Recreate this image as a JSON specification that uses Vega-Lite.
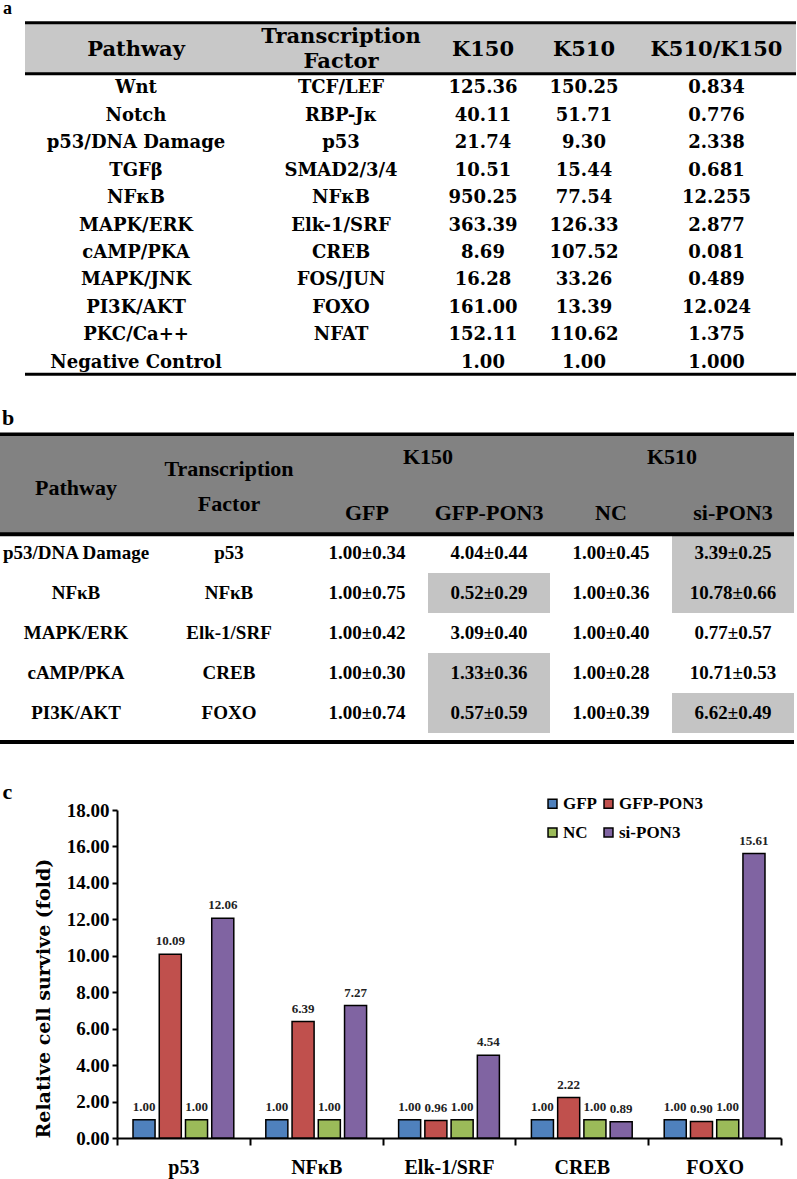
{
  "$schema": "https://vega.github.io/schema/vega-lite/v6.json",
  "autosize": {"type": "none"},
  "padding": {"left": 0, "top": 0, "right": 797, "bottom": 1179},
  "background": "white",
  "config": {"view": {"stroke": null}, "concat": {"spacing": 0}},
  "datasets": {
    "ta": [
      {"r": "h1", "c": "lab", "t": "a"},
      {"r": "hdr", "c": "pw", "t": "Pathway"},
      {"r": "hdr", "c": "tf", "t": "Transcription\nFactor"},
      {"r": "hdr", "c": "k150", "t": "K150"},
      {"r": "hdr", "c": "k510", "t": "K510"},
      {"r": "hdr", "c": "ratio", "t": "K510/K150"},
      {"r": "r1", "c": "pw", "t": "Wnt"}, {"r": "r1", "c": "tf", "t": "TCF/LEF"}, {"r": "r1", "c": "k150", "t": "125.36"}, {"r": "r1", "c": "k510", "t": "150.25"}, {"r": "r1", "c": "ratio", "t": "0.834"},
      {"r": "r2", "c": "pw", "t": "Notch"}, {"r": "r2", "c": "tf", "t": "RBP-Jκ"}, {"r": "r2", "c": "k150", "t": "40.11"}, {"r": "r2", "c": "k510", "t": "51.71"}, {"r": "r2", "c": "ratio", "t": "0.776"},
      {"r": "r3", "c": "pw", "t": "p53/DNA Damage"}, {"r": "r3", "c": "tf", "t": "p53"}, {"r": "r3", "c": "k150", "t": "21.74"}, {"r": "r3", "c": "k510", "t": "9.30"}, {"r": "r3", "c": "ratio", "t": "2.338"},
      {"r": "r4", "c": "pw", "t": "TGFβ"}, {"r": "r4", "c": "tf", "t": "SMAD2/3/4"}, {"r": "r4", "c": "k150", "t": "10.51"}, {"r": "r4", "c": "k510", "t": "15.44"}, {"r": "r4", "c": "ratio", "t": "0.681"},
      {"r": "r5", "c": "pw", "t": "NFκB"}, {"r": "r5", "c": "tf", "t": "NFκB"}, {"r": "r5", "c": "k150", "t": "950.25"}, {"r": "r5", "c": "k510", "t": "77.54"}, {"r": "r5", "c": "ratio", "t": "12.255"},
      {"r": "r6", "c": "pw", "t": "MAPK/ERK"}, {"r": "r6", "c": "tf", "t": "Elk-1/SRF"}, {"r": "r6", "c": "k150", "t": "363.39"}, {"r": "r6", "c": "k510", "t": "126.33"}, {"r": "r6", "c": "ratio", "t": "2.877"},
      {"r": "r7", "c": "pw", "t": "cAMP/PKA"}, {"r": "r7", "c": "tf", "t": "CREB"}, {"r": "r7", "c": "k150", "t": "8.69"}, {"r": "r7", "c": "k510", "t": "107.52"}, {"r": "r7", "c": "ratio", "t": "0.081"},
      {"r": "r8", "c": "pw", "t": "MAPK/JNK"}, {"r": "r8", "c": "tf", "t": "FOS/JUN"}, {"r": "r8", "c": "k150", "t": "16.28"}, {"r": "r8", "c": "k510", "t": "33.26"}, {"r": "r8", "c": "ratio", "t": "0.489"},
      {"r": "r9", "c": "pw", "t": "PI3K/AKT"}, {"r": "r9", "c": "tf", "t": "FOXO"}, {"r": "r9", "c": "k150", "t": "161.00"}, {"r": "r9", "c": "k510", "t": "13.39"}, {"r": "r9", "c": "ratio", "t": "12.024"},
      {"r": "r10", "c": "pw", "t": "PKC/Ca++"}, {"r": "r10", "c": "tf", "t": "NFAT"}, {"r": "r10", "c": "k150", "t": "152.11"}, {"r": "r10", "c": "k510", "t": "110.62"}, {"r": "r10", "c": "ratio", "t": "1.375"},
      {"r": "r11", "c": "pw", "t": "Negative Control"}, {"r": "r11", "c": "k150", "t": "1.00"}, {"r": "r11", "c": "k510", "t": "1.00"}, {"r": "r11", "c": "ratio", "t": "1.000"}
    ],
    "tb": [
      {"r": "h0", "c": "lab", "t": "b"},
      {"r": "h1", "c": "pw", "t": "Pathway"},
      {"r": "h1", "c": "tf", "t": "Transcription\nFactor"},
      {"r": "h1", "c": "gp", "t": "K150"},
      {"r": "h1", "c": "sp", "t": "K510"},
      {"r": "h2", "c": "gfp", "t": "GFP"},
      {"r": "h2", "c": "gp", "t": "GFP-PON3"},
      {"r": "h2", "c": "nc", "t": "NC"},
      {"r": "h2", "c": "sp", "t": "si-PON3"},
      {"r": "r1", "c": "pw", "t": "p53/DNA Damage"}, {"r": "r1", "c": "tf", "t": "p53"}, {"r": "r1", "c": "gfp", "t": "1.00±0.34"}, {"r": "r1", "c": "gp", "t": "4.04±0.44", "hl": false}, {"r": "r1", "c": "nc", "t": "1.00±0.45"}, {"r": "r1", "c": "sp", "t": "3.39±0.25", "hl": true},
      {"r": "r2", "c": "pw", "t": "NFκB"}, {"r": "r2", "c": "tf", "t": "NFκB"}, {"r": "r2", "c": "gfp", "t": "1.00±0.75"}, {"r": "r2", "c": "gp", "t": "0.52±0.29", "hl": true}, {"r": "r2", "c": "nc", "t": "1.00±0.36"}, {"r": "r2", "c": "sp", "t": "10.78±0.66", "hl": true},
      {"r": "r3", "c": "pw", "t": "MAPK/ERK"}, {"r": "r3", "c": "tf", "t": "Elk-1/SRF"}, {"r": "r3", "c": "gfp", "t": "1.00±0.42"}, {"r": "r3", "c": "gp", "t": "3.09±0.40", "hl": false}, {"r": "r3", "c": "nc", "t": "1.00±0.40"}, {"r": "r3", "c": "sp", "t": "0.77±0.57", "hl": false},
      {"r": "r4", "c": "pw", "t": "cAMP/PKA"}, {"r": "r4", "c": "tf", "t": "CREB"}, {"r": "r4", "c": "gfp", "t": "1.00±0.30"}, {"r": "r4", "c": "gp", "t": "1.33±0.36", "hl": true}, {"r": "r4", "c": "nc", "t": "1.00±0.28"}, {"r": "r4", "c": "sp", "t": "10.71±0.53", "hl": false},
      {"r": "r5", "c": "pw", "t": "PI3K/AKT"}, {"r": "r5", "c": "tf", "t": "FOXO"}, {"r": "r5", "c": "gfp", "t": "1.00±0.74"}, {"r": "r5", "c": "gp", "t": "0.57±0.59", "hl": true}, {"r": "r5", "c": "nc", "t": "1.00±0.39"}, {"r": "r5", "c": "sp", "t": "6.62±0.49", "hl": true}
    ],
    "bars": [
      {"tf": "p53", "grp": "GFP", "v": 1.00}, {"tf": "p53", "grp": "GFP-PON3", "v": 10.09}, {"tf": "p53", "grp": "NC", "v": 1.00}, {"tf": "p53", "grp": "si-PON3", "v": 12.06},
      {"tf": "NFκB", "grp": "GFP", "v": 1.00}, {"tf": "NFκB", "grp": "GFP-PON3", "v": 6.39}, {"tf": "NFκB", "grp": "NC", "v": 1.00}, {"tf": "NFκB", "grp": "si-PON3", "v": 7.27},
      {"tf": "Elk-1/SRF", "grp": "GFP", "v": 1.00}, {"tf": "Elk-1/SRF", "grp": "GFP-PON3", "v": 0.96}, {"tf": "Elk-1/SRF", "grp": "NC", "v": 1.00}, {"tf": "Elk-1/SRF", "grp": "si-PON3", "v": 4.54},
      {"tf": "CREB", "grp": "GFP", "v": 1.00}, {"tf": "CREB", "grp": "GFP-PON3", "v": 2.22}, {"tf": "CREB", "grp": "NC", "v": 1.00}, {"tf": "CREB", "grp": "si-PON3", "v": 0.89},
      {"tf": "FOXO", "grp": "GFP", "v": 1.00}, {"tf": "FOXO", "grp": "GFP-PON3", "v": 0.90}, {"tf": "FOXO", "grp": "NC", "v": 1.00}, {"tf": "FOXO", "grp": "si-PON3", "v": 15.61}
    ]
  },
  "spacing": 0,
  "vconcat": [
    {
      "bounds": "flush",
      "spacing": 0,
      "hconcat": [
        {"width": 25, "height": 377.75, "data": {"name": "ta"},
         "transform": [{"filter": "datum.c==='lab'"}],
         "mark": {"type": "text", "font": "Liberation Serif", "fontWeight": "bold", "fontSize": 18, "color": "black", "baseline": "alphabetic", "align": "center", "dx": -5, "dy": -5},
         "encoding": {"y": {"field": "r", "type": "nominal", "bandPosition": 0, "axis": null, "scale": {"type": "band", "domain": ["h1","h2","r1","r2","r3","r4","r5","r6","r7","r8","r9","r10","r11"], "paddingInner": 0, "paddingOuter": 0.3682, "align": 0.9506}}, "text": {"field": "t"}}},
        {"width": 222, "height": 377.75, "data": {"name": "ta"},
         "encoding": {"y": {"field": "r", "type": "nominal", "axis": null, "scale": {"type": "band", "domain": ["h1","h2","r1","r2","r3","r4","r5","r6","r7","r8","r9","r10","r11"], "paddingInner": 0, "paddingOuter": 0.3682, "align": 0.9506}}},
         "layer": [
           {"transform": [{"filter": "datum.c==='pw' && datum.r==='r1'"}], "mark": {"type": "rect", "color": "#c8c8c8"}, "encoding": {"y": {"datum": "h1", "type": "nominal", "bandPosition": 0.13, "axis": null}, "y2": {"datum": "h2", "bandPosition": 0.98}}},
           {"transform": [{"filter": "datum.c==='pw' && datum.r==='r1'"}], "mark": {"type": "rule", "color": "black", "strokeWidth": 3}, "encoding": {"y": {"datum": "h1", "type": "nominal", "bandPosition": 0.13, "axis": null}}},
           {"transform": [{"filter": "datum.c==='pw' && datum.r==='r1'"}], "mark": {"type": "rule", "color": "black", "strokeWidth": 3}, "encoding": {"y": {"datum": "h2", "type": "nominal", "bandPosition": 0.98, "axis": null}}},
           {"transform": [{"filter": "datum.c==='pw' && datum.r==='r1'"}], "mark": {"type": "rule", "color": "black", "strokeWidth": 3}, "encoding": {"y": {"datum": "r11", "type": "nominal", "bandPosition": 0.91, "axis": null}}},
           {"transform": [{"filter": "datum.c==='pw' && datum.r==='hdr'"}], "mark": {"type": "text", "font": "DejaVu Serif", "fontWeight": "bold", "fontSize": 21, "color": "black"}, "encoding": {"y": {"datum": "h2", "type": "nominal", "bandPosition": 0.12, "axis": null}, "text": {"field": "t"}}},
           {"transform": [{"filter": "datum.c==='pw' && indexof(datum.r,'r')===0"}], "mark": {"type": "text", "font": "DejaVu Serif", "fontWeight": "bold", "fontSize": 18, "color": "black"}, "encoding": {"text": {"field": "t"}}}
         ]},
        {"width": 188, "height": 377.75, "data": {"name": "ta"},
         "encoding": {"y": {"field": "r", "type": "nominal", "axis": null, "scale": {"type": "band", "domain": ["h1","h2","r1","r2","r3","r4","r5","r6","r7","r8","r9","r10","r11"], "paddingInner": 0, "paddingOuter": 0.3682, "align": 0.9506}}},
         "layer": [
           {"transform": [{"filter": "datum.c==='tf' && datum.r==='r1'"}], "mark": {"type": "rect", "color": "#c8c8c8"}, "encoding": {"y": {"datum": "h1", "type": "nominal", "bandPosition": 0.13, "axis": null}, "y2": {"datum": "h2", "bandPosition": 0.98}}},
           {"transform": [{"filter": "datum.c==='tf' && datum.r==='r1'"}], "mark": {"type": "rule", "color": "black", "strokeWidth": 3}, "encoding": {"y": {"datum": "h1", "type": "nominal", "bandPosition": 0.13, "axis": null}}},
           {"transform": [{"filter": "datum.c==='tf' && datum.r==='r1'"}], "mark": {"type": "rule", "color": "black", "strokeWidth": 3}, "encoding": {"y": {"datum": "h2", "type": "nominal", "bandPosition": 0.98, "axis": null}}},
           {"transform": [{"filter": "datum.c==='tf' && datum.r==='r1'"}], "mark": {"type": "rule", "color": "black", "strokeWidth": 3}, "encoding": {"y": {"datum": "r11", "type": "nominal", "bandPosition": 0.91, "axis": null}}},
           {"transform": [{"filter": "datum.c==='tf' && datum.r==='hdr'"}], "mark": {"type": "text", "font": "DejaVu Serif", "fontWeight": "bold", "fontSize": 21, "color": "black", "lineBreak": "\n", "lineHeight": 25}, "encoding": {"y": {"datum": "h1", "type": "nominal", "bandPosition": 0.645, "axis": null}, "text": {"field": "t"}}},
           {"transform": [{"filter": "datum.c==='tf' && indexof(datum.r,'r')===0"}], "mark": {"type": "text", "font": "DejaVu Serif", "fontWeight": "bold", "fontSize": 18, "color": "black"}, "encoding": {"text": {"field": "t"}}}
         ]},
        {"width": 96, "height": 377.75, "data": {"name": "ta"},
         "encoding": {"y": {"field": "r", "type": "nominal", "axis": null, "scale": {"type": "band", "domain": ["h1","h2","r1","r2","r3","r4","r5","r6","r7","r8","r9","r10","r11"], "paddingInner": 0, "paddingOuter": 0.3682, "align": 0.9506}}},
         "layer": [
           {"transform": [{"filter": "datum.c==='k150' && datum.r==='r1'"}], "mark": {"type": "rect", "color": "#c8c8c8"}, "encoding": {"y": {"datum": "h1", "type": "nominal", "bandPosition": 0.13, "axis": null}, "y2": {"datum": "h2", "bandPosition": 0.98}}},
           {"transform": [{"filter": "datum.c==='k150' && datum.r==='r1'"}], "mark": {"type": "rule", "color": "black", "strokeWidth": 3}, "encoding": {"y": {"datum": "h1", "type": "nominal", "bandPosition": 0.13, "axis": null}}},
           {"transform": [{"filter": "datum.c==='k150' && datum.r==='r1'"}], "mark": {"type": "rule", "color": "black", "strokeWidth": 3}, "encoding": {"y": {"datum": "h2", "type": "nominal", "bandPosition": 0.98, "axis": null}}},
           {"transform": [{"filter": "datum.c==='k150' && datum.r==='r1'"}], "mark": {"type": "rule", "color": "black", "strokeWidth": 3}, "encoding": {"y": {"datum": "r11", "type": "nominal", "bandPosition": 0.91, "axis": null}}},
           {"transform": [{"filter": "datum.c==='k150' && datum.r==='hdr'"}], "mark": {"type": "text", "font": "DejaVu Serif", "fontWeight": "bold", "fontSize": 21, "color": "black"}, "encoding": {"y": {"datum": "h2", "type": "nominal", "bandPosition": 0.12, "axis": null}, "text": {"field": "t"}}},
           {"transform": [{"filter": "datum.c==='k150' && indexof(datum.r,'r')===0"}], "mark": {"type": "text", "font": "DejaVu Serif", "fontWeight": "bold", "fontSize": 18, "color": "black"}, "encoding": {"text": {"field": "t"}}}
         ]},
        {"width": 106, "height": 377.75, "data": {"name": "ta"},
         "encoding": {"y": {"field": "r", "type": "nominal", "axis": null, "scale": {"type": "band", "domain": ["h1","h2","r1","r2","r3","r4","r5","r6","r7","r8","r9","r10","r11"], "paddingInner": 0, "paddingOuter": 0.3682, "align": 0.9506}}},
         "layer": [
           {"transform": [{"filter": "datum.c==='k510' && datum.r==='r1'"}], "mark": {"type": "rect", "color": "#c8c8c8"}, "encoding": {"y": {"datum": "h1", "type": "nominal", "bandPosition": 0.13, "axis": null}, "y2": {"datum": "h2", "bandPosition": 0.98}}},
           {"transform": [{"filter": "datum.c==='k510' && datum.r==='r1'"}], "mark": {"type": "rule", "color": "black", "strokeWidth": 3}, "encoding": {"y": {"datum": "h1", "type": "nominal", "bandPosition": 0.13, "axis": null}}},
           {"transform": [{"filter": "datum.c==='k510' && datum.r==='r1'"}], "mark": {"type": "rule", "color": "black", "strokeWidth": 3}, "encoding": {"y": {"datum": "h2", "type": "nominal", "bandPosition": 0.98, "axis": null}}},
           {"transform": [{"filter": "datum.c==='k510' && datum.r==='r1'"}], "mark": {"type": "rule", "color": "black", "strokeWidth": 3}, "encoding": {"y": {"datum": "r11", "type": "nominal", "bandPosition": 0.91, "axis": null}}},
           {"transform": [{"filter": "datum.c==='k510' && datum.r==='hdr'"}], "mark": {"type": "text", "font": "DejaVu Serif", "fontWeight": "bold", "fontSize": 21, "color": "black"}, "encoding": {"y": {"datum": "h2", "type": "nominal", "bandPosition": 0.12, "axis": null}, "text": {"field": "t"}}},
           {"transform": [{"filter": "datum.c==='k510' && indexof(datum.r,'r')===0"}], "mark": {"type": "text", "font": "DejaVu Serif", "fontWeight": "bold", "fontSize": 18, "color": "black"}, "encoding": {"text": {"field": "t"}}}
         ]},
        {"width": 159, "height": 377.75, "data": {"name": "ta"},
         "encoding": {"y": {"field": "r", "type": "nominal", "axis": null, "scale": {"type": "band", "domain": ["h1","h2","r1","r2","r3","r4","r5","r6","r7","r8","r9","r10","r11"], "paddingInner": 0, "paddingOuter": 0.3682, "align": 0.9506}}},
         "layer": [
           {"transform": [{"filter": "datum.c==='ratio' && datum.r==='r1'"}], "mark": {"type": "rect", "color": "#c8c8c8"}, "encoding": {"y": {"datum": "h1", "type": "nominal", "bandPosition": 0.13, "axis": null}, "y2": {"datum": "h2", "bandPosition": 0.98}}},
           {"transform": [{"filter": "datum.c==='ratio' && datum.r==='r1'"}], "mark": {"type": "rule", "color": "black", "strokeWidth": 3}, "encoding": {"y": {"datum": "h1", "type": "nominal", "bandPosition": 0.13, "axis": null}}},
           {"transform": [{"filter": "datum.c==='ratio' && datum.r==='r1'"}], "mark": {"type": "rule", "color": "black", "strokeWidth": 3}, "encoding": {"y": {"datum": "h2", "type": "nominal", "bandPosition": 0.98, "axis": null}}},
           {"transform": [{"filter": "datum.c==='ratio' && datum.r==='r1'"}], "mark": {"type": "rule", "color": "black", "strokeWidth": 3}, "encoding": {"y": {"datum": "r11", "type": "nominal", "bandPosition": 0.91, "axis": null}}},
           {"transform": [{"filter": "datum.c==='ratio' && datum.r==='hdr'"}], "mark": {"type": "text", "font": "DejaVu Serif", "fontWeight": "bold", "fontSize": 21, "color": "black"}, "encoding": {"y": {"datum": "h2", "type": "nominal", "bandPosition": 0.12, "axis": null}, "text": {"field": "t"}}},
           {"transform": [{"filter": "datum.c==='ratio' && indexof(datum.r,'r')===0"}], "mark": {"type": "text", "font": "DejaVu Serif", "fontWeight": "bold", "fontSize": 18, "color": "black"}, "encoding": {"text": {"field": "t"}}}
         ]}
      ]
    },
    {
      "bounds": "flush",
      "spacing": 0,
      "hconcat": [
        {"width": 152, "height": 402.25, "data": {"name": "tb"},
         "encoding": {"y": {"field": "r", "type": "nominal", "axis": null, "scale": {"type": "band", "domain": ["h0","h1","h2","r1","r2","r3","r4","r5","f1"], "paddingInner": 0, "paddingOuter": 0.528125, "align": 0.83136}}},
         "layer": [
           {"transform": [{"filter": "datum.c==='pw' && datum.r==='r1'"}], "mark": {"type": "rect", "color": "#828282"}, "encoding": {"y": {"datum": "h0", "type": "nominal", "bandPosition": 0.53, "axis": null}, "y2": {"datum": "h2", "bandPosition": 1}}},
           {"transform": [{"filter": "datum.c==='pw' && datum.r==='r1'"}], "mark": {"type": "rule", "color": "black", "strokeWidth": 3.5}, "encoding": {"y": {"datum": "h0", "type": "nominal", "bandPosition": 0.53, "axis": null}}},
           {"transform": [{"filter": "datum.c==='pw' && datum.r==='r1'"}], "mark": {"type": "rule", "color": "black", "strokeWidth": 4}, "encoding": {"y": {"datum": "h2", "type": "nominal", "bandPosition": 1.03, "axis": null}}},
           {"transform": [{"filter": "datum.c==='pw' && datum.r==='r1'"}], "mark": {"type": "rule", "color": "black", "strokeWidth": 4}, "encoding": {"y": {"datum": "f1", "type": "nominal", "bandPosition": 0.22, "axis": null}}},
           {"transform": [{"filter": "datum.c==='lab'"}], "mark": {"type": "text", "font": "Liberation Serif", "fontWeight": "bold", "fontSize": 22, "color": "black", "baseline": "alphabetic", "align": "left", "dx": -74}, "encoding": {"y": {"field": "r", "type": "nominal", "bandPosition": 0.3, "axis": null}, "text": {"field": "t"}}},
           {"transform": [{"filter": "datum.c==='pw' && datum.r==='h1'"}], "mark": {"type": "text", "font": "Liberation Serif", "fontWeight": "bold", "fontSize": 22, "color": "black"}, "encoding": {"y": {"field": "r", "type": "nominal", "bandPosition": 0.875, "axis": null}, "text": {"field": "t"}}},
           {"transform": [{"filter": "datum.c==='pw' && indexof(datum.r,'r')===0"}], "mark": {"type": "text", "font": "Liberation Serif", "fontWeight": "bold", "fontSize": 19, "color": "black"}, "encoding": {"text": {"field": "t"}}}
         ]},
        {"width": 154, "height": 402.25, "data": {"name": "tb"},
         "encoding": {"y": {"field": "r", "type": "nominal", "axis": null, "scale": {"type": "band", "domain": ["h0","h1","h2","r1","r2","r3","r4","r5","f1"], "paddingInner": 0, "paddingOuter": 0.528125, "align": 0.83136}}},
         "layer": [
           {"transform": [{"filter": "datum.c==='tf' && datum.r==='r1'"}], "mark": {"type": "rect", "color": "#828282"}, "encoding": {"y": {"datum": "h0", "type": "nominal", "bandPosition": 0.53, "axis": null}, "y2": {"datum": "h2", "bandPosition": 1}}},
           {"transform": [{"filter": "datum.c==='tf' && datum.r==='r1'"}], "mark": {"type": "rule", "color": "black", "strokeWidth": 3.5}, "encoding": {"y": {"datum": "h0", "type": "nominal", "bandPosition": 0.53, "axis": null}}},
           {"transform": [{"filter": "datum.c==='tf' && datum.r==='r1'"}], "mark": {"type": "rule", "color": "black", "strokeWidth": 4}, "encoding": {"y": {"datum": "h2", "type": "nominal", "bandPosition": 1.03, "axis": null}}},
           {"transform": [{"filter": "datum.c==='tf' && datum.r==='r1'"}], "mark": {"type": "rule", "color": "black", "strokeWidth": 4}, "encoding": {"y": {"datum": "f1", "type": "nominal", "bandPosition": 0.22, "axis": null}}},
           {"transform": [{"filter": "datum.c==='tf' && datum.r==='h1'"}], "mark": {"type": "text", "font": "Liberation Serif", "fontWeight": "bold", "fontSize": 22, "color": "black", "lineBreak": "\n", "lineHeight": 35}, "encoding": {"y": {"field": "r", "type": "nominal", "bandPosition": 0.403, "axis": null}, "text": {"field": "t"}}},
           {"transform": [{"filter": "datum.c==='tf' && indexof(datum.r,'r')===0"}], "mark": {"type": "text", "font": "Liberation Serif", "fontWeight": "bold", "fontSize": 19, "color": "black"}, "encoding": {"text": {"field": "t"}}}
         ]},
        {"width": 122, "height": 402.25, "data": {"name": "tb"},
         "encoding": {"y": {"field": "r", "type": "nominal", "axis": null, "scale": {"type": "band", "domain": ["h0","h1","h2","r1","r2","r3","r4","r5","f1"], "paddingInner": 0, "paddingOuter": 0.528125, "align": 0.83136}}},
         "layer": [
           {"transform": [{"filter": "datum.c==='gfp' && datum.r==='r1'"}], "mark": {"type": "rect", "color": "#828282"}, "encoding": {"y": {"datum": "h0", "type": "nominal", "bandPosition": 0.53, "axis": null}, "y2": {"datum": "h2", "bandPosition": 1}}},
           {"transform": [{"filter": "datum.c==='gfp' && datum.r==='r1'"}], "mark": {"type": "rule", "color": "black", "strokeWidth": 3.5}, "encoding": {"y": {"datum": "h0", "type": "nominal", "bandPosition": 0.53, "axis": null}}},
           {"transform": [{"filter": "datum.c==='gfp' && datum.r==='r1'"}], "mark": {"type": "rule", "color": "black", "strokeWidth": 4}, "encoding": {"y": {"datum": "h2", "type": "nominal", "bandPosition": 1.03, "axis": null}}},
           {"transform": [{"filter": "datum.c==='gfp' && datum.r==='r1'"}], "mark": {"type": "rule", "color": "black", "strokeWidth": 4}, "encoding": {"y": {"datum": "f1", "type": "nominal", "bandPosition": 0.22, "axis": null}}},
           {"transform": [{"filter": "datum.c==='gfp' && datum.r==='h2'"}], "mark": {"type": "text", "font": "Liberation Serif", "fontWeight": "bold", "fontSize": 22, "color": "black"}, "encoding": {"text": {"field": "t"}}},
           {"transform": [{"filter": "datum.c==='gfp' && indexof(datum.r,'r')===0"}], "mark": {"type": "text", "font": "Liberation Serif", "fontWeight": "bold", "fontSize": 19, "color": "black"}, "encoding": {"text": {"field": "t"}}}
         ]},
        {"width": 122, "height": 402.25, "data": {"name": "tb"},
         "encoding": {"y": {"field": "r", "type": "nominal", "axis": null, "scale": {"type": "band", "domain": ["h0","h1","h2","r1","r2","r3","r4","r5","f1"], "paddingInner": 0, "paddingOuter": 0.528125, "align": 0.83136}}},
         "layer": [
           {"transform": [{"filter": "datum.c==='gp' && datum.r==='r1'"}], "mark": {"type": "rect", "color": "#828282"}, "encoding": {"y": {"datum": "h0", "type": "nominal", "bandPosition": 0.53, "axis": null}, "y2": {"datum": "h2", "bandPosition": 1}}},
           {"transform": [{"filter": "datum.c==='gp' && datum.hl===true"}], "mark": {"type": "rect", "color": "#c4c4c4"}, "encoding": {}},
           {"transform": [{"filter": "datum.c==='gp' && datum.r==='r1'"}], "mark": {"type": "rule", "color": "black", "strokeWidth": 3.5}, "encoding": {"y": {"datum": "h0", "type": "nominal", "bandPosition": 0.53, "axis": null}}},
           {"transform": [{"filter": "datum.c==='gp' && datum.r==='r1'"}], "mark": {"type": "rule", "color": "black", "strokeWidth": 4}, "encoding": {"y": {"datum": "h2", "type": "nominal", "bandPosition": 1.03, "axis": null}}},
           {"transform": [{"filter": "datum.c==='gp' && datum.r==='r1'"}], "mark": {"type": "rule", "color": "black", "strokeWidth": 4}, "encoding": {"y": {"datum": "f1", "type": "nominal", "bandPosition": 0.22, "axis": null}}},
           {"transform": [{"filter": "datum.c==='gp' && datum.r==='h1'"}], "mark": {"type": "text", "font": "Liberation Serif", "fontWeight": "bold", "fontSize": 22, "color": "black", "dx": -61}, "encoding": {"y": {"field": "r", "type": "nominal", "bandPosition": 0.1, "axis": null}, "text": {"field": "t"}}},
           {"transform": [{"filter": "datum.c==='gp' && datum.r==='h2'"}], "mark": {"type": "text", "font": "Liberation Serif", "fontWeight": "bold", "fontSize": 22, "color": "black"}, "encoding": {"text": {"field": "t"}}},
           {"transform": [{"filter": "datum.c==='gp' && indexof(datum.r,'r')===0"}], "mark": {"type": "text", "font": "Liberation Serif", "fontWeight": "bold", "fontSize": 19, "color": "black"}, "encoding": {"text": {"field": "t"}}}
         ]},
        {"width": 122, "height": 402.25, "data": {"name": "tb"},
         "encoding": {"y": {"field": "r", "type": "nominal", "axis": null, "scale": {"type": "band", "domain": ["h0","h1","h2","r1","r2","r3","r4","r5","f1"], "paddingInner": 0, "paddingOuter": 0.528125, "align": 0.83136}}},
         "layer": [
           {"transform": [{"filter": "datum.c==='nc' && datum.r==='r1'"}], "mark": {"type": "rect", "color": "#828282"}, "encoding": {"y": {"datum": "h0", "type": "nominal", "bandPosition": 0.53, "axis": null}, "y2": {"datum": "h2", "bandPosition": 1}}},
           {"transform": [{"filter": "datum.c==='nc' && datum.r==='r1'"}], "mark": {"type": "rule", "color": "black", "strokeWidth": 3.5}, "encoding": {"y": {"datum": "h0", "type": "nominal", "bandPosition": 0.53, "axis": null}}},
           {"transform": [{"filter": "datum.c==='nc' && datum.r==='r1'"}], "mark": {"type": "rule", "color": "black", "strokeWidth": 4}, "encoding": {"y": {"datum": "h2", "type": "nominal", "bandPosition": 1.03, "axis": null}}},
           {"transform": [{"filter": "datum.c==='nc' && datum.r==='r1'"}], "mark": {"type": "rule", "color": "black", "strokeWidth": 4}, "encoding": {"y": {"datum": "f1", "type": "nominal", "bandPosition": 0.22, "axis": null}}},
           {"transform": [{"filter": "datum.c==='nc' && datum.r==='h2'"}], "mark": {"type": "text", "font": "Liberation Serif", "fontWeight": "bold", "fontSize": 22, "color": "black"}, "encoding": {"text": {"field": "t"}}},
           {"transform": [{"filter": "datum.c==='nc' && indexof(datum.r,'r')===0"}], "mark": {"type": "text", "font": "Liberation Serif", "fontWeight": "bold", "fontSize": 19, "color": "black"}, "encoding": {"text": {"field": "t"}}}
         ]},
        {"width": 122, "height": 402.25, "data": {"name": "tb"},
         "encoding": {"y": {"field": "r", "type": "nominal", "axis": null, "scale": {"type": "band", "domain": ["h0","h1","h2","r1","r2","r3","r4","r5","f1"], "paddingInner": 0, "paddingOuter": 0.528125, "align": 0.83136}}},
         "layer": [
           {"transform": [{"filter": "datum.c==='sp' && datum.r==='r1'"}], "mark": {"type": "rect", "color": "#828282"}, "encoding": {"y": {"datum": "h0", "type": "nominal", "bandPosition": 0.53, "axis": null}, "y2": {"datum": "h2", "bandPosition": 1}}},
           {"transform": [{"filter": "datum.c==='sp' && datum.hl===true"}], "mark": {"type": "rect", "color": "#c4c4c4"}, "encoding": {}},
           {"transform": [{"filter": "datum.c==='sp' && datum.r==='r1'"}], "mark": {"type": "rule", "color": "black", "strokeWidth": 3.5}, "encoding": {"y": {"datum": "h0", "type": "nominal", "bandPosition": 0.53, "axis": null}}},
           {"transform": [{"filter": "datum.c==='sp' && datum.r==='r1'"}], "mark": {"type": "rule", "color": "black", "strokeWidth": 4}, "encoding": {"y": {"datum": "h2", "type": "nominal", "bandPosition": 1.03, "axis": null}}},
           {"transform": [{"filter": "datum.c==='sp' && datum.r==='r1'"}], "mark": {"type": "rule", "color": "black", "strokeWidth": 4}, "encoding": {"y": {"datum": "f1", "type": "nominal", "bandPosition": 0.22, "axis": null}}},
           {"transform": [{"filter": "datum.c==='sp' && datum.r==='h1'"}], "mark": {"type": "text", "font": "Liberation Serif", "fontWeight": "bold", "fontSize": 22, "color": "black", "dx": -61}, "encoding": {"y": {"field": "r", "type": "nominal", "bandPosition": 0.1, "axis": null}, "text": {"field": "t"}}},
           {"transform": [{"filter": "datum.c==='sp' && datum.r==='h2'"}], "mark": {"type": "text", "font": "Liberation Serif", "fontWeight": "bold", "fontSize": 22, "color": "black"}, "encoding": {"text": {"field": "t"}}},
           {"transform": [{"filter": "datum.c==='sp' && indexof(datum.r,'r')===0"}], "mark": {"type": "text", "font": "Liberation Serif", "fontWeight": "bold", "fontSize": 19, "color": "black"}, "encoding": {"text": {"field": "t"}}}
         ]}
      ]
    },
    {
      "bounds": "flush",
      "spacing": 0,
      "hconcat": [
        {"width": 117, "height": 328, "data": {"values": [{"t": "c"}]},
         "mark": {"type": "text", "font": "Liberation Serif", "fontWeight": "bold", "fontSize": 22, "color": "black", "align": "left", "baseline": "alphabetic", "dx": -56, "dy": -175},
         "encoding": {"text": {"field": "t"}}},
        {"width": 664, "height": 328, "data": {"name": "bars"},
         "encoding": {
           "x": {"field": "tf", "type": "nominal", "sort": ["p53", "NFκB", "Elk-1/SRF", "CREB", "FOXO"], "scale": {"paddingInner": 0, "paddingOuter": 0},
                 "axis": {"title": null, "labelAngle": 0, "labelFont": "Liberation Serif", "labelFontWeight": "bold", "labelFontSize": 20, "labelColor": "black", "labelPadding": 12, "tickBand": "extent", "tickSize": 7, "tickColor": "black", "tickWidth": 2, "domainColor": "black", "domainWidth": 2}},
           "xOffset": {"field": "grp", "type": "nominal", "sort": ["GFP", "GFP-PON3", "NC", "si-PON3"], "scale": {"paddingInner": 0.16, "paddingOuter": 0.61}},
           "y": {"field": "v", "type": "quantitative", "scale": {"domain": [0, 18], "nice": false},
                 "axis": {"title": "Relative cell survive (fold)", "titleFont": "DejaVu Serif", "titleFontWeight": "bold", "titleFontSize": 19, "titleColor": "black", "titleAnchor": "start", "titlePadding": 13, "values": [0, 2, 4, 6, 8, 10, 12, 14, 16, 18], "format": ".2f", "grid": false, "labelFont": "Liberation Serif", "labelFontWeight": "bold", "labelFontSize": 19, "labelColor": "black", "labelPadding": 3, "tickSize": 5, "tickColor": "black", "tickWidth": 2, "domainColor": "black", "domainWidth": 2}}
         },
         "layer": [
           {"mark": {"type": "bar", "stroke": "black", "strokeWidth": 1.5},
            "encoding": {"color": {"field": "grp", "type": "nominal", "scale": {"domain": ["GFP", "GFP-PON3", "NC", "si-PON3"], "range": ["#4F81BD", "#C0504D", "#9BBB59", "#8064A2"]},
              "legend": {"orient": "none", "legendX": 544, "legendY": 795, "direction": "horizontal", "columns": 2, "gridAlign": "each", "title": null, "symbolType": "square", "symbolSize": 80, "symbolStrokeColor": "black", "symbolStrokeWidth": 1.5, "symbolOpacity": 1, "labelFont": "Liberation Serif", "labelFontWeight": "bold", "labelFontSize": 17, "labelColor": "black", "labelOffset": 2, "columnPadding": 3, "rowPadding": 11, "padding": 0}}}},
           {"mark": {"type": "text", "baseline": "bottom", "dy": -6, "font": "Liberation Serif", "fontWeight": "bold", "fontSize": 13, "color": "#222222"},
            "encoding": {"text": {"field": "v", "type": "quantitative", "format": ".2f"}}}
         ]}
      ]
    }
  ]
}
